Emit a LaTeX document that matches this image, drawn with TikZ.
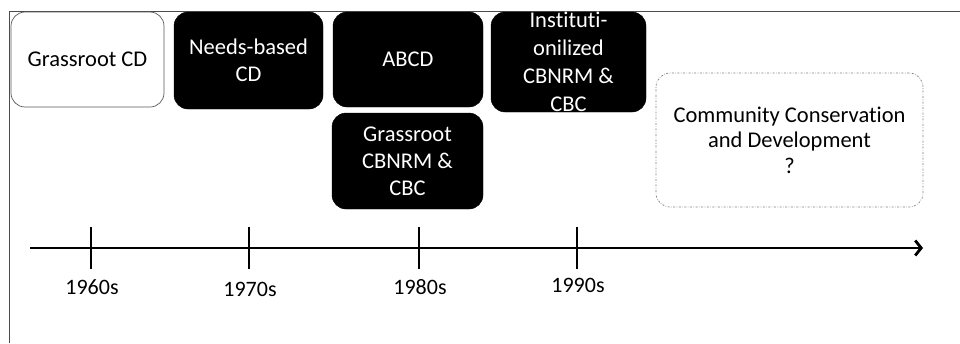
\documentclass[tikz,border=0pt]{standalone}
\usepackage{fontspec}
\setmainfont{Carlito}[Ligatures={NoCommon}]
\usetikzlibrary{arrows.meta,calc}
\begin{document}
\begin{tikzpicture}[x=1pt,y=-1pt,
  boxtext/.style={align=center, inner sep=0pt, font=\fontsize{22.5}{27}\selectfont},
  blackbox/.style={boxtext, fill=black, draw=black, text=white, rounded corners=14pt},
  whitebox/.style={boxtext, fill=white, draw=black!65, line width=0.7pt, text=black, rounded corners=14pt},
  dashbox/.style={boxtext, draw=black!50, line width=0.7pt, dash pattern=on 2pt off 1.5pt on 0.6pt off 1.5pt, text=black, rounded corners=14pt, font=\fontsize{22.5}{25.5}\selectfont},
  tickline/.style={line width=2.4pt, black},
  yearlbl/.style={font=\fontsize{22}{24}\selectfont, inner sep=0pt},
  framel/.style={draw=black!70, line width=0.8pt}
]
\useasboundingbox (0,0) rectangle (960,343);
% frame
\coordinate (fa) at (9,343);
\coordinate (fb) at (9,11);
\coordinate (fc) at (960,11);
\draw[framel] (fa) -- (fb) -- (fc);

% boxes
\node[whitebox, minimum width=153pt, minimum height=95pt] (gcd) at (87.5,59.5) {Grassroot CD};
\node[blackbox, minimum width=149pt, minimum height=97pt] (ncd) at (248.5,60.5) {Needs-based\\CD};
\node[blackbox, minimum width=150pt, minimum height=95pt] (abcd) at (408,59.5) {ABCD};
\node[blackbox, minimum width=151pt, minimum height=96pt] (gcb) at (407.5,161) {Grassroot\\CBNRM \&\\CBC};
\node[blackbox, minimum width=155pt, minimum height=100pt, font=\fontsize{22.5}{28}\selectfont] (icb) at (568.5,62) {Ins\kern0pt t\kern0pt itut\kern0pt i-\\onilized\\CBNRM \&\\CBC};
\node[dashbox, minimum width=267pt, minimum height=134pt] (ccd) at (789.5,140) {Community Conservat\kern0pt ion\\and Development\\?};

% axis
\coordinate (as) at (30,248);
\coordinate (ae) at (923,248);
\draw[line width=2.8pt, -{Straight Barb[length=6pt,width=15pt]}] (as) -- (ae);

\foreach \x/\n/\ly/\lab in {91/t1/287/1960s, 249/t2/289/1970s, 419/t3/287/1980s, 577/t4/285/1990s}{
  \coordinate (\n) at (\x,248);
  \draw[tickline] ($(\n)+(0,-21)$) -- ($(\n)+(0,21)$);
  \node[yearlbl] (\n l) at (\x+1,\ly) {\lab};
}
\end{tikzpicture}
\end{document}
